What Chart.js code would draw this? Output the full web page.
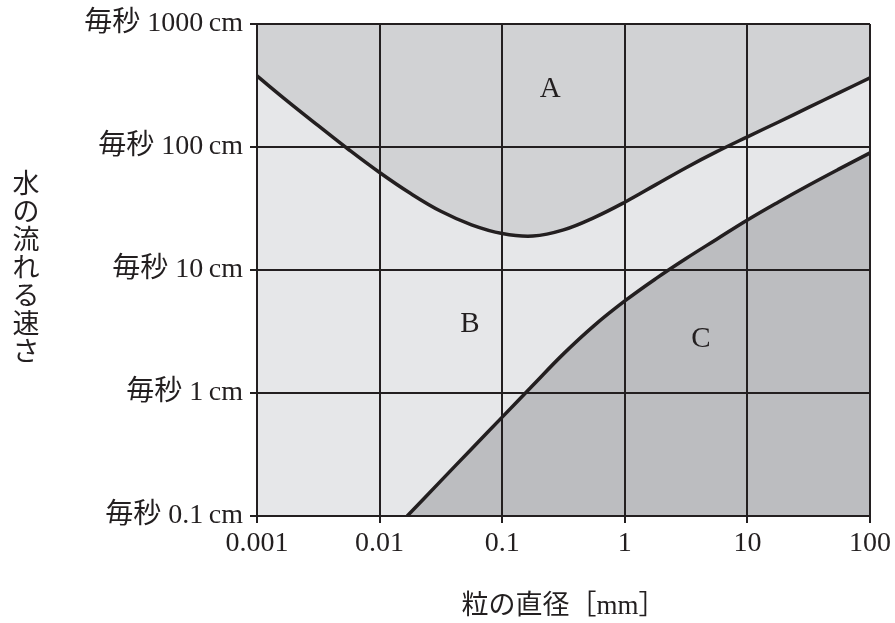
<!DOCTYPE html>
<html>
<head>
<meta charset="utf-8">
<script src="https://cdn.jsdelivr.net/npm/chart.js@4"></script>
<style>
  body { margin: 0; background: #fff; }
</style>
</head>
<body>
<canvas id="grafico" width="895" height="623"></canvas>
<script>
// curva superior (limite A / B), lida a cada 1/4 de década
const upperX = [0.001, 0.00178, 0.00316, 0.00562, 0.01, 0.0178, 0.0316, 0.0562, 0.1, 0.178, 0.316, 0.562, 1, 1.78, 3.16, 5.62, 10, 17.8, 31.6, 56.2, 100];
const upperY = [378, 235, 149, 95, 62, 42, 30, 23.3, 19.8, 18.9, 21.2, 26.7, 35.6, 49.2, 67.9, 91.6, 121, 159, 210, 277, 365];

// curva inferior (limite B / C)
const lowerX = [0.0168, 0.0316, 0.0562, 0.1, 0.178, 0.316, 0.562, 1, 1.78, 3.16, 5.62, 10, 17.8, 31.6, 56.2, 100];
const lowerY = [0.1, 0.193, 0.351, 0.637, 1.156, 2.08, 3.53, 5.6, 8.47, 12.4, 17.8, 25.5, 35.6, 48.9, 66.4, 89.5];

const xTicks = [0.001, 0.01, 0.1, 1, 10, 100];
const xTickLabels = ['0.001', '0.01', '0.1', '1', '10', '100'];
const yTicks = [0.1, 1, 10, 100, 1000];
const yTickLabels = ['毎秒 0.1\u2009cm', '毎秒 1\u2009cm', '毎秒 10\u2009cm', '毎秒 100\u2009cm', '毎秒 1000\u2009cm'];

const regionText = ['A', 'B', 'C'];
const regionX = [0.247, 0.0546, 4.17];
const regionY = [295, 3.58, 2.71];

const xTitle = '粒の直径［mm］';
const yTitle = '水の流れる速さ';

const lineColor = '#231f20';
const fontFam = "'Liberation Serif', 'Noto Sans CJK JP', serif";

function toPoints(xs, ys) {
  return xs.map((x, i) => ({ x: x, y: ys[i] }));
}

// fundo da zona B + letras + titulo vertical
const extras = {
  id: 'extras',
  beforeDatasetsDraw(chart) {
    const a = chart.chartArea;
    const ctx = chart.ctx;
    ctx.save();
    ctx.fillStyle = '#e6e7e9';
    ctx.fillRect(a.left, a.top, a.right - a.left, a.bottom - a.top);
    ctx.restore();
  },
  afterDraw(chart) {
    const ctx = chart.ctx;
    const sx = chart.scales.x, sy = chart.scales.y;
    ctx.save();
    ctx.fillStyle = lineColor;
    ctx.textAlign = 'center';
    ctx.textBaseline = 'middle';
    ctx.font = "29px " + fontFam;
    regionText.forEach((t, i) => {
      ctx.fillText(t, sx.getPixelForValue(regionX[i]), sy.getPixelForValue(regionY[i]));
    });
    ctx.font = "27px " + fontFam;
    const a = chart.chartArea;
    const mid = (a.top + a.bottom) / 2;
    const step = 28;
    const chars = Array.from(yTitle);
    chars.forEach((c, i) => {
      ctx.fillText(c, 26, mid + (i - (chars.length - 1) / 2) * step);
    });
    ctx.restore();
  }
};

new Chart(document.getElementById('grafico'), {
  type: 'line',
  data: {
    datasets: [
      {
        label: 'upper',
        data: toPoints(upperX, upperY),
        borderColor: lineColor,
        borderWidth: 3.5,
        backgroundColor: '#d1d2d4',
        fill: 'end',
        pointRadius: 0,
        tension: 0.4
      },
      {
        label: 'lower',
        data: toPoints(lowerX, lowerY),
        borderColor: lineColor,
        borderWidth: 3.5,
        backgroundColor: '#bcbdc0',
        fill: 'start',
        pointRadius: 0,
        tension: 0.4
      }
    ]
  },
  options: {
    responsive: false,
    animation: false,
    layout: { padding: { top: 24, right: 25, bottom: 0, left: 0 } },
    plugins: {
      legend: { display: false },
      tooltip: { enabled: false }
    },
    scales: {
      x: {
        type: 'logarithmic',
        min: 0.001,
        max: 100,
        afterBuildTicks: (s) => { s.ticks = xTicks.map(v => ({ value: v })); },
        afterFit: (s) => { s.height = 107; },
        grid: { color: lineColor, lineWidth: 2, tickLength: 7, z: 1 },
        border: { color: lineColor, width: 2, z: 1 },
        ticks: {
          color: lineColor,
          font: { family: fontFam, size: 28 },
          padding: 4,
          maxRotation: 0,
          autoSkip: false,
          callback: (v) => xTickLabels[xTicks.indexOf(v)]
        },
        title: {
          display: true,
          text: xTitle,
          color: lineColor,
          font: { family: fontFam, size: 27 },
          padding: { top: 0, bottom: 0 }
        }
      },
      y: {
        type: 'logarithmic',
        min: 0.1,
        max: 1000,
        afterBuildTicks: (s) => { s.ticks = yTicks.map(v => ({ value: v })); },
        afterFit: (s) => { s.width = 257; },
        grid: { color: lineColor, lineWidth: 2, tickLength: 7, z: 1 },
        border: { color: lineColor, width: 2, z: 1 },
        ticks: {
          color: lineColor,
          font: { family: fontFam, size: 28 },
          padding: 7,
          autoSkip: false,
          callback: (v) => yTickLabels[yTicks.indexOf(v)]
        }
      }
    }
  },
  plugins: [extras]
});
</script>
</body>
</html>
